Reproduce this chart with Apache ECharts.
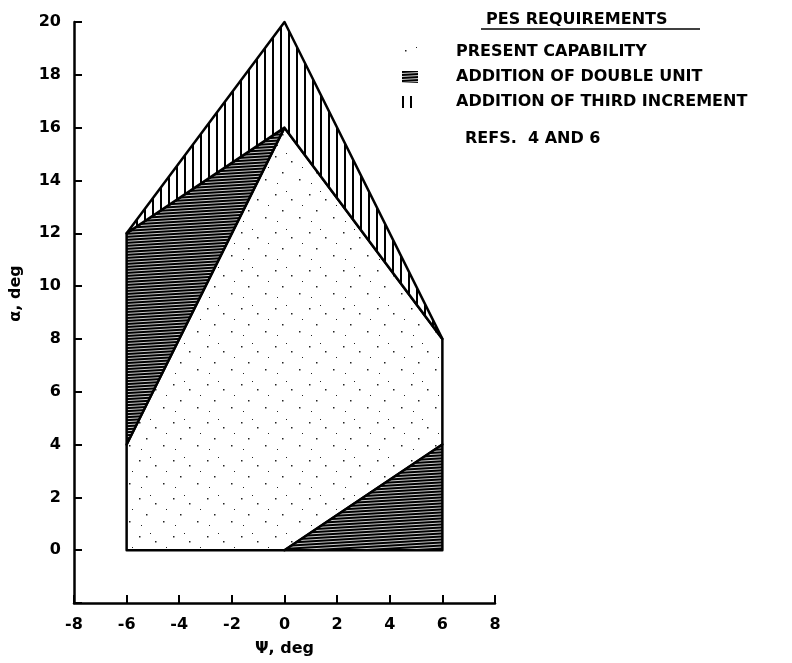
<!DOCTYPE html>
<html>
<head>
<meta charset="utf-8">
<script src="https://cdn.jsdelivr.net/npm/echarts@6/dist/echarts.min.js"></script>
<style>
  html, body { margin: 0; padding: 0; background: #fff; }
  #main { width: 792px; height: 663px; }
</style>
</head>
<body>
<div id="main"></div>
<script>
// region corners (psi, alpha)
const presentPsi = [-6, -6, 0, 6, 6, 0];
const presentAlpha = [0, 4, 16, 8, 4, 0];
const doubleUpperPsi = [-6, -6, 0];
const doubleUpperAlpha = [4, 12, 16];
const doubleLowerPsi = [0, 6, 6];
const doubleLowerAlpha = [0, 4, 0];
const thirdPsi = [-6, 0, 6, 0];
const thirdAlpha = [12, 20, 8, 16];

const seriesNames = ['PRESENT CAPABILITY', 'ADDITION OF DOUBLE UNIT', 'ADDITION OF THIRD INCREMENT'];
const psiTicks = [-8, 8, 2];     // min, max, step
const alphaTicks = [-2, 20, 2];

const FONT = 'DejaVu Sans';

// fill textures
function makePattern(w, h, draw) {
  const c = document.createElement('canvas');
  c.width = w; c.height = h;
  const ctx = c.getContext('2d');
  ctx.fillStyle = '#fff';
  ctx.fillRect(0, 0, w, h);
  ctx.fillStyle = '#000';
  draw(ctx);
  return { image: c, repeat: 'repeat' };
}
const stipple = makePattern(34, 38, ctx => {
  ctx.fillStyle = '#222';
  ctx.fillRect(3, 4, 1.5, 1.5);
  ctx.fillRect(19, 9, 1.5, 1.5);
  ctx.fillRect(10, 20, 1.5, 1.5);
  ctx.fillRect(27, 27, 1.5, 1.5);
  ctx.fillRect(14, 1, 1, 1);
  ctx.fillRect(30, 15, 1, 1);
  ctx.fillRect(5, 31, 1, 1);
});
const denseHatch = makePattern(6, 3, ctx => { ctx.fillRect(0, 0, 6, 2.2); });
denseHatch.rotation = -0.06;
const vertHatch = makePattern(8, 4, ctx => { ctx.fillRect(0, 0, 2, 4); });

const polygons = {
  present: [{ psi: presentPsi, alpha: presentAlpha }],
  double: [{ psi: doubleUpperPsi, alpha: doubleUpperAlpha }, { psi: doubleLowerPsi, alpha: doubleLowerAlpha }],
  third: [{ psi: thirdPsi, alpha: thirdAlpha }]
};

function regionSeries(name, key, fill) {
  return {
    name: name,
    type: 'custom',
    itemStyle: { color: fill, borderColor: '#000', borderWidth: 1 },
    data: polygons[key].map((p, i) => [i]),
    encode: { x: 0, y: 0 },
    renderItem: function (params, api) {
      const poly = polygons[key][api.value(0)];
      const pts = poly.psi.map((x, i) => api.coord([x, poly.alpha[i]]));
      return {
        type: 'polygon',
        shape: { points: pts },
        style: { fill: fill, stroke: '#000', lineWidth: 2.5, lineJoin: 'round' }
      };
    }
  };
}

const chart = echarts.init(document.getElementById('main'));
chart.setOption({
  animation: false,
  backgroundColor: '#fff',
  title: {
    text: 'PES REQUIREMENTS',
    left: 481,
    top: 7,
    textStyle: { fontFamily: FONT, fontSize: 16, fontWeight: 'bold', color: '#000' }
  },
  legend: {
    orient: 'vertical',
    left: 397,
    top: 39,
    itemWidth: 16,
    itemHeight: 12,
    itemGap: 9,
    icon: 'rect',
    data: seriesNames,
    itemStyle: { borderWidth: 0 },
    textStyle: { fontFamily: FONT, fontSize: 16, fontWeight: 'bold', color: '#000', padding: [0, 0, 0, 33] }
  },
  graphic: [
    { type: 'line', shape: { x1: 481, y1: 29, x2: 700, y2: 29 }, style: { stroke: '#000', lineWidth: 1.5 } },
    {
      type: 'text', left: 465, top: 131,
      style: { text: 'REFS.  4 AND 6', font: 'bold 16px "DejaVu Sans"', fill: '#000' }
    }
  ],
  grid: { left: 73, right: 297, top: 22, bottom: 60, containLabel: false },
  xAxis: {
    type: 'value',
    min: psiTicks[0],
    max: psiTicks[1],
    interval: psiTicks[2],
    name: 'Ψ, deg',
    nameLocation: 'middle',
    nameGap: 38,
    nameTextStyle: { fontFamily: FONT, fontSize: 16, fontWeight: 'bold', color: '#000' },
    axisLine: { onZero: false, lineStyle: { color: '#000', width: 2.5 } },
    axisTick: { inside: true, length: 8, lineStyle: { color: '#000', width: 2 } },
    axisLabel: { fontFamily: FONT, fontSize: 16, fontWeight: 'bold', color: '#000', margin: 14 },
    splitLine: { show: false }
  },
  yAxis: {
    type: 'value',
    min: alphaTicks[0],
    max: alphaTicks[1],
    interval: alphaTicks[2],
    name: 'α, deg',
    nameLocation: 'middle',
    nameGap: 50,
    nameRotate: 90,
    nameTextStyle: { fontFamily: FONT, fontSize: 16, fontWeight: 'bold', color: '#000', padding: [0, 0, 0, 38] },
    axisLine: { onZero: false, lineStyle: { color: '#000', width: 2.5 } },
    axisTick: { inside: true, length: 8, lineStyle: { color: '#000', width: 2 } },
    axisLabel: {
      fontFamily: FONT, fontSize: 16, fontWeight: 'bold', color: '#000', margin: 13,
      formatter: v => (v < 0 ? '' : String(v))
    },
    splitLine: { show: false }
  },
  series: [
    regionSeries(seriesNames[0], 'present', stipple),
    regionSeries(seriesNames[1], 'double', denseHatch),
    regionSeries(seriesNames[2], 'third', vertHatch)
  ]
});
</script>
</body>
</html>
